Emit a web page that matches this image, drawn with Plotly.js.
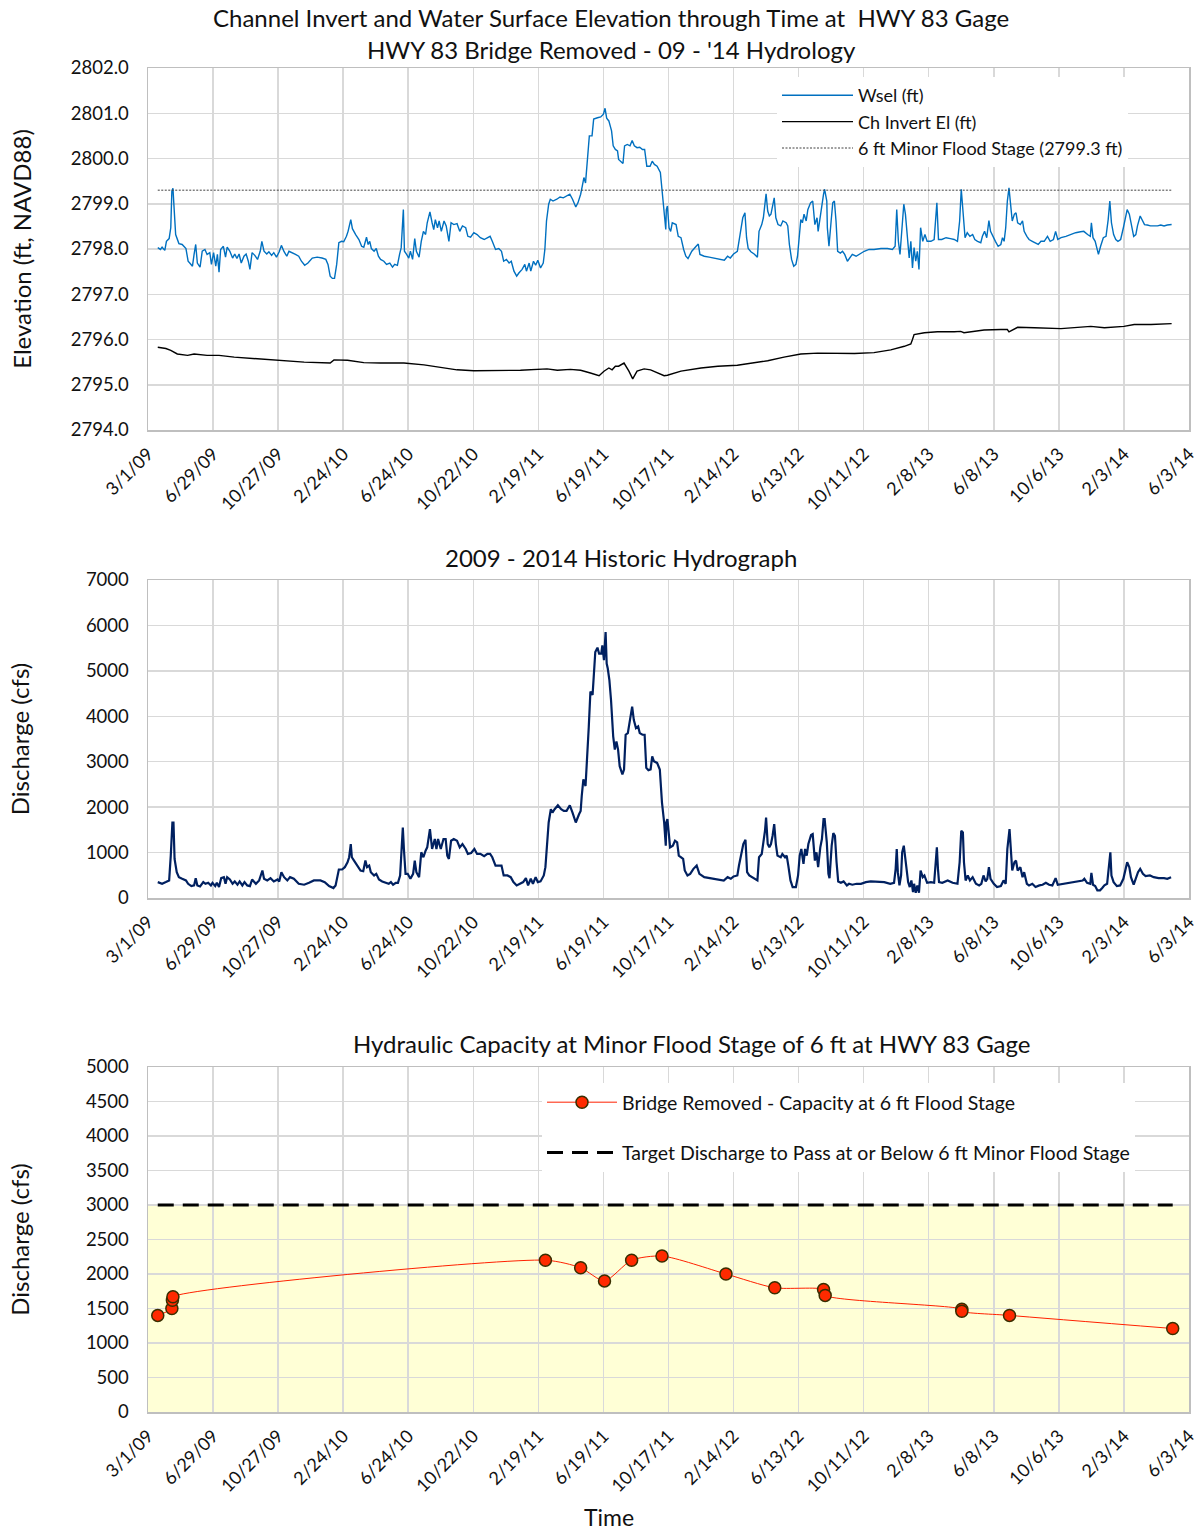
<!DOCTYPE html>
<html>
<head>
<meta charset="utf-8">
<script src="https://cdn.plot.ly/plotly-3.0.1.min.js"></script>
<style>
  body { margin: 0; background: #ffffff; }
  #chart { width: 1197px; height: 1534px; }
</style>
</head>
<body>
<div id="chart"></div>
<script>
// ---------- DATA (day offsets counted from 3/1/2009) ----------
const startDate = '2009-03-01';

const wselDays = [
  18,23,26,31,34,39,42,44,46,48, 51,57,63,70,74,77,82,85,88,91,
  96,100,105,109,114,117,121,125,128,131, 134,139,143,146,151,156,160,164,168,172,
  177,181,185,188,192,197,202,207,210,214, 219,223,228,232,237,242,246,251,256,260,
  266,272,278,283,289,295,303,312,321,328, 332,336,340,344,348,352,357,361,366,369,
  374,377,383,389,394,398,403,406,409,412, 417,421,425,429,435,440,446,451,455,460,
  464,467,471,473,477,481,484,488,492,495, 500,504,508,512,515,520,524,527,530,534,
  537,541,546,550,555,559,564,570,575,580, 586,590,595,601,607,613,620,626,631,635,
  641,647,652,656,661,666,670,675,680,684, 690,695,698,703,706,711,715,719,724,729,
  732,735,739,742,747,754,760,766,772,778, 783,789,793,798,801,804,807,810,814,819,
  822,829,835,840,843,846,850,855,858,862, 866,868,872,876,879,884,889,893,897,902,
  907,912,916,920,926,930,934,939,945,948, 951,955,956,958,961,964,967,974,978,983,
  988,992,996,1003,1011,1015,1018,1026,1035,1044, 1054,1063,1069,1074,1080,1087,1092,1097,1101,1104,
  1107,1112,1118,1124,1127,1132,1135,1138,1140,1143, 1146,1149,1152,1155,1158,1162,1167,1171,1177,1180,
  1183,1187,1191,1195,1198,1201,1204,1207,1210,1214, 1217,1222,1226,1230,1234,1236,1240,1243,1246,1248,
  1252,1253,1256,1260,1263,1266,1269,1272,1277,1281, 1285,1290,1295,1299,1306,1312,1321,1330,1339,1352,
  1364,1373,1378,1381,1384,1387,1390,1394,1397,1400, 1404,1407,1410,1413,1416,1419,1422,1425,1429,1433,
  1437,1444,1450,1455,1458,1464,1472,1480,1487,1493, 1497,1500,1504,1507,1511,1516,1521,1525,1530,1536,
  1539,1543,1547,1551,1554,1559,1563,1568,1573,1576, 1579,1582,1585,1588,1591,1594,1598,1601,1604,1609,
  1613,1616,1621,1625,1631,1637,1642,1647,1653,1659, 1664,1670,1674,1678,1684,1693,1702,1711,1720,1726,
  1733,1738,1740,1743,1747,1750,1753,1757,1762,1767, 1771,1774,1777,1781,1785,1789,1794,1799,1802,1806,
  1810,1814,1818,1822,1825,1830,1834,1838,1843,1849, 1855,1862,1868,1874,1880,1888
];
const wselFt = [
  2798.03,2797.99,2798.04,2797.97,2798.17,2798.23,2798.47,2799.28,2799.34,2798.84, 2798.32,2798.12,2798.10,2798.01,2797.73,2797.69,2797.62,2797.88,2798.10,2797.69,
  2797.60,2797.95,2797.99,2797.88,2797.92,2797.66,2797.92,2797.62,2797.88,2797.49, 2797.99,2798.06,2797.82,2798.04,2797.95,2797.80,2797.89,2797.79,2797.89,2797.69,
  2797.84,2797.89,2797.73,2797.55,2797.92,2797.86,2797.77,2797.95,2798.17,2797.95, 2797.89,2797.94,2797.86,2797.92,2797.82,2797.94,2798.08,2797.94,2797.84,2797.95,
  2797.92,2797.88,2797.84,2797.73,2797.64,2797.69,2797.80,2797.82,2797.80,2797.77, 2797.66,2797.40,2797.35,2797.35,2797.66,2798.14,2798.17,2798.16,2798.28,2798.39,
  2798.65,2798.45,2798.32,2798.21,2798.06,2798.04,2798.26,2798.10,2798.17,2798.01, 2797.95,2798.01,2797.84,2797.77,2797.73,2797.66,2797.69,2797.60,2797.66,2797.64,
  2797.88,2798.03,2798.87,2797.95,2797.88,2797.80,2797.95,2797.77,2798.23,2797.95, 2797.82,2798.17,2798.39,2798.32,2798.58,2798.82,2798.58,2798.43,2798.65,2798.47,
  2798.62,2798.39,2798.62,2798.51,2798.17,2798.58,2798.54,2798.56,2798.39,2798.51, 2798.47,2798.28,2798.26,2798.36,2798.32,2798.25,2798.21,2798.25,2798.28,2798.17,
  2797.99,2798.01,2797.95,2797.73,2797.77,2797.69,2797.73,2797.51,2797.40,2797.47, 2797.55,2797.66,2797.51,2797.69,2797.51,2797.73,2797.64,2797.75,2797.58,2797.69,
  2797.99,2798.62,2798.99,2799.10,2799.06,2799.10,2799.15,2799.13,2799.17,2799.21, 2799.10,2798.93,2799.02,2799.21,2799.39,2799.58,2799.46,2799.94,2800.50,2800.50,
  2800.87,2800.90,2800.92,2800.98,2801.11,2800.89,2800.83,2800.61,2800.28,2800.20, 2800.17,2799.98,2799.94,2799.89,2800.28,2800.31,2800.28,2800.40,2800.28,2800.24,
  2800.25,2800.20,2800.20,2799.83,2799.83,2799.94,2799.87,2799.83,2799.69,2799.28, 2798.91,2798.43,2798.87,2798.95,2798.47,2798.39,2798.58,2798.54,2798.28,2798.25,
  2797.99,2797.84,2797.79,2797.95,2798.06,2798.11,2797.88,2797.84,2797.82,2797.80, 2797.78,2797.75,2797.84,2797.80,2797.89,2797.95,2798.32,2798.69,2798.80,2798.25,
  2798.01,2797.94,2797.89,2797.82,2798.39,2798.54,2798.69,2798.95,2799.22,2798.84, 2798.73,2798.77,2798.99,2799.13,2798.69,2798.54,2798.51,2798.62,2798.58,2798.51,
  2798.10,2797.77,2797.62,2797.66,2797.84,2798.32,2798.65,2798.58,2798.77,2798.62, 2798.87,2799.02,2799.06,2798.54,2798.69,2798.39,2798.77,2798.99,2799.21,2799.32,
  2799.06,2798.47,2798.06,2798.62,2799.02,2799.06,2798.62,2797.95,2797.91,2797.95, 2797.88,2797.73,2797.82,2797.88,2797.84,2797.89,2797.95,2797.99,2797.99,2798.01,
  2798.01,2797.99,2798.06,2798.87,2798.17,2797.88,2798.32,2798.99,2798.77,2798.25, 2797.80,2798.17,2797.58,2798.03,2797.73,2797.95,2797.55,2798.47,2798.17,2798.32,
  2798.17,2798.17,2798.21,2799.02,2798.21,2798.21,2798.25,2798.23,2798.21,2798.17, 2798.62,2799.32,2798.62,2798.25,2798.36,2798.28,2798.32,2798.21,2798.17,2798.14,
  2798.28,2798.39,2798.25,2798.63,2798.39,2798.25,2798.17,2798.06,2798.10,2798.25, 2798.17,2798.47,2799.06,2799.35,2798.99,2798.62,2798.77,2798.80,2798.58,2798.54,
  2798.62,2798.39,2798.28,2798.21,2798.17,2798.14,2798.10,2798.17,2798.17,2798.28, 2798.17,2798.21,2798.39,2798.21,2798.25,2798.28,2798.32,2798.36,2798.38,2798.39,
  2798.32,2798.28,2798.58,2798.25,2798.17,2797.99,2797.88,2798.06,2798.25,2798.28, 2798.65,2799.06,2798.58,2798.32,2798.21,2798.17,2798.21,2798.47,2798.65,2798.87,
  2798.77,2798.51,2798.28,2798.32,2798.51,2798.73,2798.65,2798.54,2798.53,2798.51, 2798.51,2798.51,2798.53,2798.51,2798.53,2798.54
];

const invertDays = [
  18,33,42,54,73,85,109,131,159,196, 245,288,336,343,368,398,429,472,509,540,
  570,601,644,687,736,755,779,798,816,832, 841,850,856,862,868,878,887,894,902,915,
  927,939,952,958,983,1020,1051,1087,1112,1143, 1173,1204,1235,1266,1303,1339,1370,1395,1407,1410,
  1413,1432,1456,1487,1499,1505,1542,1573,1585,1588, 1604,1635,1684,1739,1764,1800,1819,1850,1888
];
const invertFt = [
  2795.83,2795.80,2795.76,2795.68,2795.65,2795.68,2795.65,2795.65,2795.61,2795.58, 2795.53,2795.50,2795.48,2795.55,2795.54,2795.49,2795.48,2795.48,2795.44,2795.38,
  2795.33,2795.31,2795.31,2795.32,2795.35,2795.32,2795.34,2795.32,2795.26,2795.20, 2795.30,2795.37,2795.33,2795.41,2795.41,2795.48,2795.30,2795.13,2795.30,2795.35,
  2795.33,2795.27,2795.20,2795.21,2795.30,2795.37,2795.41,2795.43,2795.48,2795.53, 2795.61,2795.68,2795.70,2795.69,2795.69,2795.71,2795.77,2795.85,2795.90,2796.00,
  2796.11,2796.15,2796.17,2796.17,2796.18,2796.15,2796.21,2796.22,2796.22,2796.17, 2796.27,2796.26,2796.24,2796.29,2796.26,2796.29,2796.33,2796.33,2796.35
];

const floodStageDays = [18, 1888];
const floodStageFt = [2799.3, 2799.3];

const flowDays = [
  18,26,33,39,42,45,47,49,53,57, 63,70,74,80,85,88,91,96,102,106,
  111,116,119,124,127,131,135,140,143,146, 151,156,160,165,169,174,178,183,188,192,
  199,205,211,214,220,226,232,239,242,246, 251,257,262,269,278,288,297,306,318,326,
  334,342,346,349,352,358,363,368,371,374, 376,380,386,392,397,401,404,408,411,417,
  421,426,432,438,444,448,452,457,461,465, 468,470,472,475,479,484,489,492,495,500,
  504,508,512,515,520,524,529,532,535,540, 545,549,552,555,559,564,570,575,580,586,
  590,596,602,607,613,620,626,631,635,641, 647,652,656,663,669,674,680,686,692,697,
  701,706,710,715,719,724,730,733,737,739, 743,746,750,756,762,767,772,778,783,789,
  795,798,800,803,807,810,813,816,820,825, 829,832,836,838,841,844,846,848,851,854,
  858,861,864,867,870,875,878,881,885,889, 893,896,900,904,907,912,916,919,923,927,
  930,933,939,944,948,952,955,956,958,963, 968,972,976,979,983,987,990,995,1000,1006,
  1012,1017,1026,1038,1051,1062,1069,1075,1080,1087, 1090,1095,1098,1102,1105,1109,1117,1124,1127,1132,
  1135,1138,1140,1143,1146,1149,1152,1155,1158,1161, 1167,1170,1175,1178,1181,1185,1189,1195,1199,1202,
  1205,1209,1212,1215,1218,1223,1226,1230,1233,1236, 1240,1243,1246,1248,1252,1255,1257,1261,1264,1267,
  1270,1273,1278,1283,1289,1293,1299,1307,1315,1324, 1333,1346,1358,1369,1376,1379,1381,1383,1386,1389,
  1391,1394,1396,1400,1402,1405,1408,1411,1413,1416, 1419,1422,1425,1429,1432,1437,1444,1450,1453,1455,
  1457,1459,1465,1475,1484,1493,1497,1500,1503,1505, 1508,1512,1516,1521,1527,1533,1537,1541,1545,1548,
  1551,1554,1560,1566,1573,1578,1582,1585,1589,1591, 1594,1598,1601,1604,1609,1613,1616,1621,1625,1631,
  1637,1644,1650,1656,1662,1668,1674,1678,1687,1696, 1705,1714,1724,1727,1732,1738,1740,1743,1747,1751,
  1756,1760,1764,1769,1773,1775,1777,1781,1787,1793, 1799,1803,1806,1810,1813,1818,1822,1826,1830,1835,
  1840,1848,1855,1864,1874,1880,1887
];
const flowCfs = [
  350,313,350,386,933,1662,1662,860,569,459, 423,386,313,262,277,437,277,255,350,313,
  335,277,335,262,335,241,437,459,313,459, 408,313,365,292,365,277,350,277,262,408,
  313,386,605,423,386,437,365,408,365,569, 459,386,459,423,313,292,335,386,386,350,
  262,219,277,496,627,627,678,787,897,1188, 897,824,714,605,590,824,678,714,569,496,
  532,408,365,335,313,350,292,335,335,496, 1225,1553,1079,532,532,423,532,824,569,459,
  1006,897,1042,1115,1516,1079,1298,1079,1298,1079, 1298,1298,933,860,1261,1298,1261,1115,1188,1079,
  970,991,1079,970,970,919,970,970,897,714, 714,714,496,496,459,350,277,313,350,437,
  277,423,313,459,350,365,496,678,1298,1662, 1954,1881,1954,2041,1954,1917,1917,2041,1881,1662,
  1844,1917,2245,2610,2464,3047,3776,4542,4469,5416, 5511,5380,5380,5562,5234,5854,5161,5052,4797,4359,
  3558,3266,3448,3266,2901,2719,2829,3594,3630,3922, 4214,3922,3740,3776,3630,3594,3594,2865,2814,2829,
  3120,3011,2974,2829,2100,1662,1152,1662,1735,1115, 1152,1261,1225,933,897,860,605,496,532,642,
  714,532,459,437,408,386,459,423,474,496, 714,1042,1188,1283,569,496,437,386,897,970,
  1225,1480,1771,1188,1115,1188,1370,1626,1188,933, 897,970,897,933,714,386,241,241,496,933,
  1079,751,1079,933,1188,1385,1407,824,1006,678, 1115,1298,1735,1735,1225,532,437,1152,1429,1370,
  787,365,335,365,277,313,292,313,313,350, 365,350,350,313,335,642,1079,569,277,496,
  1006,1152,933,642,350,241,386,131,313,117, 277,117,605,459,496,335,350,335,787,1115,
  642,350,335,386,335,313,787,1480,1443,787, 386,496,386,459,313,277,313,496,365,423,
  678,423,313,241,262,386,313,1079,1516,1079, 605,787,824,605,678,459,569,313,277,313,
  241,277,292,335,292,277,437,292,313,335, 350,365,386,423,335,313,554,292,262,168,
  168,219,277,313,824,1006,496,350,262,277, 423,678,787,678,459,292,423,569,642,532,
  481,496,459,437,437,423,459
];

const capacityDays = [18,44,45,46,733,798,842,892,948,1066,1156,1246,1249,1501,1501,1589,1890];
const capacityCfs = [1400,1500,1620,1670,2200,2090,1900,2200,2260,2000,1800,1775,1690,1490,1460,1400,1210];

const targetDays = [18, 1890];
const targetCfs = [3000, 3000];
const targetBandTop = 3000;

const xTickStart = '2009-03-01';
const xRangeEnd = '2014-06-03 01:00';
const xTickDays = 120;

// ---------- HELPERS ----------
const DAY_MS = 86400000;
const t0 = Date.parse(startDate + 'T00:00:00Z');
const toDates = days => days.map(d => new Date(t0 + d * DAY_MS).toISOString().slice(0, 10));

const FONT = 'Lato, "Open Sans", "DejaVu Sans", sans-serif';
const TXT = '#111111';
const GRID = '#D9D9D9';
const W = 1197, H = 1534;

const xDom = [148 / W, 1189 / W];
const yDomTop = [1 - 430 / H, 1 - 68 / H];
const yDomMid = [1 - 898 / H, 1 - 580 / H];
const yDomBot = [1 - 1412 / H, 1 - 1067 / H];

function xAxisDef(anchor) {
  return {
    type: 'date', domain: xDom, anchor: anchor,
    range: [xTickStart, xRangeEnd],
    tick0: xTickStart, dtick: xTickDays * DAY_MS, tickformat: '%-m/%-d/%y',
    tickangle: -45, ticks: '', ticklabelstandoff: 5, ticklabeloverflow: 'allow',
    showgrid: true, gridcolor: GRID, gridwidth: 1.5,
    showline: true, linecolor: '#BFBFBF', linewidth: 1.5, mirror: true,
    zeroline: false, automargin: false,
    tickfont: { family: FONT, size: 18, color: TXT }
  };
}
function yAxisDef(anchor, dom, range, dtick, fmt, title, standoff) {
  return {
    domain: dom, anchor: anchor, range: range, dtick: dtick, tickformat: fmt,
    ticks: '', ticklabelstandoff: 14,
    showgrid: true, gridcolor: GRID, gridwidth: 1.5,
    showline: true, linecolor: '#BFBFBF', linewidth: 1.5, mirror: true,
    zeroline: false, automargin: false,
    tickfont: { family: FONT, size: 18.5, color: TXT },
    title: { text: title, font: { family: FONT, size: 24, color: TXT }, standoff: standoff }
  };
}

// ---------- TRACES ----------
const traces = [
  {
    x: toDates(wselDays), y: wselFt, xaxis: 'x', yaxis: 'y',
    type: 'scatter', mode: 'lines', name: 'Wsel (ft)',
    line: { color: '#0070C0', width: 1.4 }, legend: 'legend'
  },
  {
    x: toDates(invertDays), y: invertFt, xaxis: 'x', yaxis: 'y',
    type: 'scatter', mode: 'lines', name: 'Ch Invert El (ft)',
    line: { color: '#000000', width: 1.4 }, legend: 'legend'
  },
  {
    x: toDates(floodStageDays), y: floodStageFt, xaxis: 'x', yaxis: 'y',
    type: 'scatter', mode: 'lines', name: '6 ft Minor Flood Stage (2799.3 ft)',
    line: { color: '#404040', width: 1, dash: '2px,1.5px' }, legend: 'legend'
  },
  {
    x: toDates(flowDays), y: flowCfs, xaxis: 'x2', yaxis: 'y2',
    type: 'scatter', mode: 'lines', name: 'Discharge (cfs)', showlegend: false,
    line: { color: '#002060', width: 2.2 }
  },
  {
    x: toDates(capacityDays), y: capacityCfs, xaxis: 'x3', yaxis: 'y3',
    type: 'scatter', mode: 'lines+markers',
    name: 'Bridge Removed - Capacity at 6 ft Flood Stage',
    line: { color: '#FF2000', width: 1, shape: 'spline', smoothing: 0.7 },
    marker: { color: '#FF2A00', size: 12, line: { color: '#3A2E00', width: 1.5 } },
    legend: 'legend2', legendgroup: 'cap'
  },
  {
    x: toDates(targetDays), y: targetCfs, xaxis: 'x3', yaxis: 'y3',
    type: 'scatter', mode: 'lines',
    name: 'Target Discharge to Pass at or Below 6 ft Minor Flood Stage',
    line: { color: '#000000', width: 3, dash: '16px,9px' },
    legend: 'legend2', legendgroup: 'tgt'
  }
];

// ---------- LAYOUT ----------
const titleFont = { family: FONT, size: 24, color: TXT };
const layout = {
  width: W, height: H,
  margin: { l: 0, r: 0, t: 0, b: 0 },
  paper_bgcolor: '#ffffff', plot_bgcolor: '#ffffff',
  font: { family: FONT, color: TXT },
  xaxis: xAxisDef('y'),
  xaxis2: xAxisDef('y2'),
  xaxis3: xAxisDef('y3'),
  yaxis: yAxisDef('x', yDomTop, [2794, 2802], 1, '.1f', 'Elevation (ft, NAVD88)', 32),
  yaxis2: yAxisDef('x2', yDomMid, [0, 7000], 1000, 'd', 'Discharge (cfs)', 49),
  yaxis3: yAxisDef('x3', yDomBot, [0, 5000], 500, 'd', 'Discharge (cfs)', 49),
  legend: {
    x: 777 / W, xanchor: 'left', y: 1 - 77 / H, yanchor: 'top',
    bgcolor: '#ffffff', borderwidth: 0, itemwidth: 71,
    font: { family: FONT, size: 18, color: TXT }, tracegroupgap: 0
  },
  legend2: {
    x: 542 / W, xanchor: 'left', y: 1 - 1083 / H, yanchor: 'top',
    bgcolor: '#ffffff', borderwidth: 0, itemwidth: 70,
    traceorder: 'grouped', tracegroupgap: 22,
    font: { family: FONT, size: 19.5, color: TXT }
  },
  shapes: [
    {
      type: 'rect', xref: 'x3 domain', yref: 'y3', x0: 0, x1: 1, y0: 0, y1: targetBandTop,
      fillcolor: '#FFFFD6', line: { width: 0 }, layer: 'below'
    }
  ],
  annotations: [
    { text: 'Channel Invert and Water Surface Elevation through Time at  HWY 83 Gage',
      xref: 'paper', yref: 'paper', x: 611 / W, y: 1 - 17 / H, xanchor: 'center', yanchor: 'middle',
      showarrow: false, font: titleFont },
    { text: "HWY 83 Bridge Removed - 09 - '14 Hydrology",
      xref: 'paper', yref: 'paper', x: 611 / W, y: 1 - 49 / H, xanchor: 'center', yanchor: 'middle',
      showarrow: false, font: titleFont },
    { text: '2009 - 2014 Historic Hydrograph',
      xref: 'paper', yref: 'paper', x: 621 / W, y: 1 - 557 / H, xanchor: 'center', yanchor: 'middle',
      showarrow: false, font: titleFont },
    { text: 'Hydraulic Capacity at Minor Flood Stage of 6 ft at HWY 83 Gage',
      xref: 'paper', yref: 'paper', x: 692 / W, y: 1 - 1043 / H, xanchor: 'center', yanchor: 'middle',
      showarrow: false, font: titleFont },
    { text: 'Time',
      xref: 'paper', yref: 'paper', x: 609 / W, y: 1 - 1517 / H, xanchor: 'center', yanchor: 'middle',
      showarrow: false, font: { family: FONT, size: 23, color: TXT } }
  ]
};

Plotly.newPlot('chart', traces, layout, { staticPlot: true, displayModeBar: false });
</script>
</body>
</html>
